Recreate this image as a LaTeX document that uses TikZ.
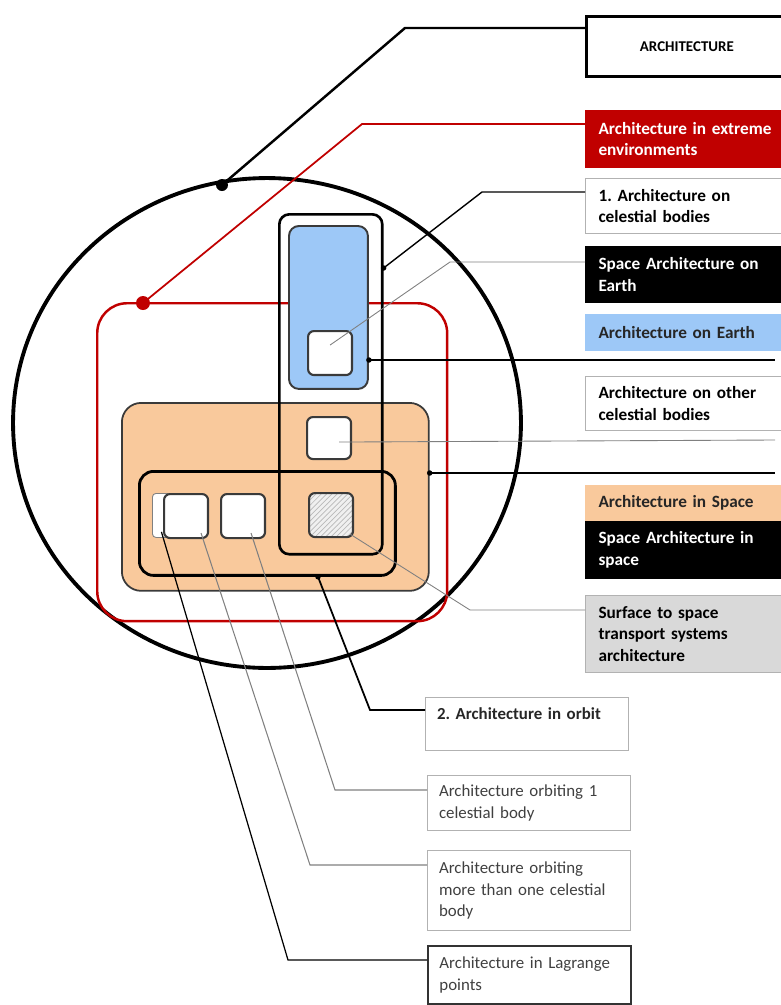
\documentclass[tikz,border=0pt]{standalone}
\usepackage{fontspec}
\setmainfont{Carlito}
\usepackage{tikz}
\usetikzlibrary{
  	positioning,
  	calc,
  	patterns
  }
\frenchspacing
\definecolor{envred}{HTML}{C00000}
\definecolor{earthblue}{HTML}{9DC8F7}
\definecolor{spacepeach}{HTML}{F9C99C}
\definecolor{surfgray}{HTML}{D9D9D9}
\definecolor{rim}{HTML}{3A3A3A}
\tikzstyle{zone}=[anchor=north west,inner sep=0pt]
\tikzstyle{cell}=[zone,draw=rim,line width=1.2pt,fill=white,rounded corners=3.4pt,minimum width=0.88cm,minimum height=0.88cm]
\tikzstyle{tag}=[anchor=north west,draw=gray!60,line width=0.6pt,inner xsep=0.26cm,inner ysep=1pt,text width=3.74cm,align=left,font=\bfseries\fontsize{9.8}{12.4}\selectfont]
\tikzstyle{low}=[tag,inner xsep=0.23cm,text width=3.6cm,font=\fontsize{9.6}{12.4}\selectfont,text=black!75]
\tikzstyle{knot}=[circle,fill,inner sep=0pt,minimum size=0.11cm]
\tikzstyle{thin}=[gray,line width=0.5pt]

\begin{document}
\begin{tikzpicture}[x=0.02cm,y=-0.02cm]
	\useasboundingbox (0,0) rectangle (781,1005);
%
	\draw[line width=2.2pt] (267,423) ellipse [x radius=5.08cm, y radius=4.9cm];
	\node[zone,draw=envred,line width=1.4pt,rounded corners=17pt,minimum width=7cm,minimum height=6.36cm] at (96,302) (Env) {};
	\node[zone,draw=rim,line width=1pt,fill=spacepeach,rounded corners=11pt,minimum width=6.14cm,minimum height=3.76cm] at (121,402) (Space) {};
	\node[zone,draw,line width=1.5pt,rounded corners=5.7pt,minimum width=2.06cm,minimum height=6.8cm] at (278,213) (Bodies) {};
	\node[zone,draw=rim,line width=1.1pt,fill=earthblue,rounded corners=5.7pt,minimum width=1.58cm,minimum height=3.26cm] at (288,225) (Earth) {};
	\node[zone,draw,line width=1.6pt,rounded corners=8pt,minimum width=5.12cm,minimum height=2.08cm] at (138,470) (Orbit) {};
%
	\node[cell] at (307,330) (SqE) {};
	\node[cell,minimum height=0.84cm] at (306,416) (SqO) {};
	\node[cell,fill=none,preaction={fill=gray!12},pattern=north east lines,pattern color=gray!55] at (308,492) (SqS) {};
	\node[zone,draw=gray,line width=0.5pt,fill=white,rounded corners=2pt,minimum width=0.36cm,minimum height=0.88cm] at (152,493) (SqL) {};
	\node[cell] at (163,493) (SqM) {};
	\node[cell] at (220,493) (SqB) {};
%
	\node[tag,draw=black,line width=1.6pt,text width=3.5cm,align=center,font=\bfseries\fontsize{8.5}{10}\selectfont,minimum height=1.2cm] at (585,15) (Arch) {ARCHITECTURE};
	\node[tag,draw=envred,fill=envred,text=white,minimum height=1.14cm] at (585,110) (Extreme) {Architecture in extreme\\environments};
	\node[tag,minimum height=1.1cm] at (585,178) (Cel) {1. Architecture on\\celestial bodies};
	\node[tag,draw=black,fill=black,text=white,minimum height=1.12cm] at (585,246) (SAE) {Space Architecture on\\Earth};
	\node[tag,draw=earthblue,fill=earthblue,text=black!85,minimum height=0.72cm] at (585,314) (OnEarth) {Architecture on Earth};
	\node[tag,minimum height=1.08cm] at (585,376) (Other) {Architecture on other\\celestial bodies};
	\node[tag,draw=spacepeach,fill=spacepeach,text=black!85,minimum height=0.7cm] at (585,485) (InSpace) {Architecture in Space};
	\node[tag,draw=black,fill=black,text=white,minimum height=1.14cm] at (585,521) (SAS) {Space Architecture in\\space};
	\node[tag,fill=surfgray,minimum height=1.54cm] at (585,595) (Surf) {Surface to space\\transport systems\\architecture};
	\node[low,font=\bfseries\fontsize{9.6}{12.4}\selectfont,text=black!85,minimum height=1.06cm] at (425,697) (InOrbit) {2. Architecture in orbit\\\mbox{}};
	\node[low,minimum height=1.1cm] at (427,775) (OrbOne) {Architecture orbiting 1\\celestial body};
	\node[low,minimum height=1.6cm] at (427,850) (OrbMore) {Architecture orbiting\\more than one celestial\\body};
	\node[low,draw=black!80,line width=1.1pt,minimum height=1.16cm] at (427,945) (Lagrange) {Architecture in Lagrange\\points};
%
	\node[knot,minimum size=0.24cm] at (222,185) (K0) {};
	\node[knot,envred,minimum size=0.28cm] at (143,303) (K1) {};
	\node[knot] at (Bodies.east |- 0,268) (K2) {};
	\node[knot] at (Earth.east |- 0,360) (K3) {};
	\node[knot] at (Space.east |- 0,473) (K4) {};
	\node[knot] at (Orbit.south -| 318,0) (K5) {};
%
	\coordinate (B0) at (405,28);
	\coordinate (B1) at (362,124);
	\coordinate (B2) at (482,192);
	\coordinate (B3) at (450,262);
	\coordinate (B8) at (470,610);
	\coordinate (B9) at (370,710);
	\coordinate (B10) at (335,790);
	\coordinate (B11) at (310,865);
	\coordinate (B12) at (288,960);
	\coordinate (E3) at (775,360);
	\coordinate (E6) at (775,440);
	\coordinate (E4) at (775,473);
%
	\draw[line width=1.4pt] (K0.center) -- (B0) -- (B0 -| Arch.west);
	\draw[envred,line width=1pt] (K1.center) -- (B1) -- (B1 -| Extreme.west);
	\draw[line width=0.8pt] (K2.center) -- (B2) -- (B2 -| Cel.west);
	\draw[thin] ($(SqE.center)+(0,-8)$) -- (B3) -- (B3 -| SAE.west);
	\draw[line width=0.8pt] (K3.center) -- (E3);
	\draw[thin] ($(SqO.center)+(10,4)$) -- (E6);
	\draw[line width=0.8pt] (K4.center) -- (E4);
	\draw[thin] ($(SqS.south east)+(-4,-4)$) -- (B8) -- (B8 -| Surf.west);
	\draw[line width=1pt] (K5.center) -- (B9) -- (B9 -| InOrbit.west);
	\draw[thin,line width=0.6pt] ($(SqB.south)+(8,-6)$) -- (B10) -- (B10 -| OrbOne.west);
	\draw[thin,line width=0.6pt] ($(SqM.south)+(15,-6)$) -- (B11) -- (B11 -| OrbMore.west);
	\draw[line width=0.7pt] ($(SqL.south)+(0,-6)$) -- (B12) -- (B12 -| Lagrange.west);
\end{tikzpicture}
\end{document}
